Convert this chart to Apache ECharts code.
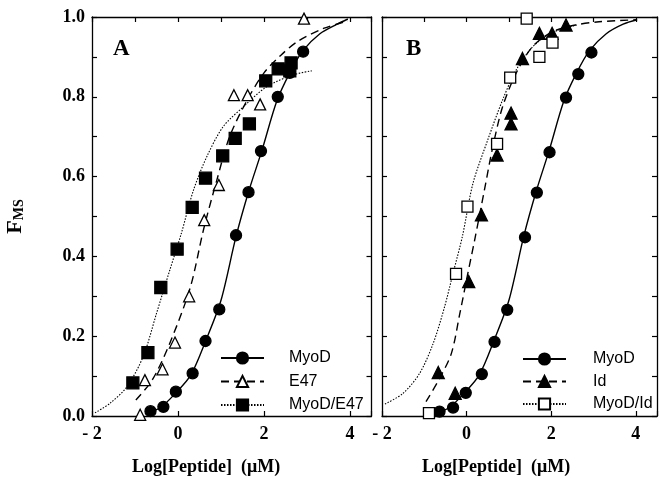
<!DOCTYPE html>
<html>
<head>
<meta charset="utf-8">
<script src="https://cdn.jsdelivr.net/npm/echarts@6/dist/echarts.min.js"></script>
<style>html,body{margin:0;padding:0;background:#fff}#c{width:660px;height:480px}</style>
</head>
<body>
<div id="c"></div>
<script>
// ---------- Panel A data ----------
const aMyoDX = [-0.64, -0.34, -0.05, 0.34, 0.64, 0.96, 1.35, 1.64, 1.93, 2.32, 2.60, 2.91];
const aMyoDY = [0.012, 0.023, 0.061, 0.107, 0.188, 0.267, 0.453, 0.561, 0.664, 0.80, 0.86, 0.913];
const aE47X = [-0.88, -0.77, -0.36, -0.07, 0.26, 0.61, 0.95, 1.30, 1.62, 1.91, 2.93];
const aE47Y = [0.003, 0.09, 0.117, 0.184, 0.30, 0.491, 0.579, 0.804, 0.804, 0.781, 0.996];
const aMixX = [-1.05, -0.70, -0.40, -0.02, 0.33, 0.64, 1.04, 1.33, 1.66, 2.04, 2.33, 2.60, 2.63];
const aMixY = [0.083, 0.159, 0.322, 0.418, 0.523, 0.596, 0.652, 0.696, 0.732, 0.840, 0.870, 0.865, 0.885];
// fitted curves
const aMyoDFitX = [-0.75, -0.4, -0.05, 0.3, 0.65, 1.0, 1.35, 1.65, 1.95, 2.3, 2.6, 2.9, 3.3, 3.7, 3.95];
const aMyoDFitY = [0.005, 0.022, 0.058, 0.103, 0.19, 0.29, 0.45, 0.565, 0.665, 0.79, 0.86, 0.915, 0.958, 0.982, 0.995];
const aE47FitX = [-0.98, -0.6, -0.2, 0.28, 0.6, 0.9, 1.2, 1.6, 2.0, 2.4, 2.8, 3.4, 3.95];
const aE47FitY = [0.04, 0.09, 0.18, 0.32, 0.47, 0.59, 0.7, 0.79, 0.86, 0.905, 0.94, 0.972, 0.99];
const aMixFitX = [-1.93, -1.58, -1.19, -0.81, -0.5, -0.19, 0.07, 0.36, 0.67, 1.05, 1.52, 2.06, 2.68, 3.11];
const aMixFitY = [0.008, 0.032, 0.073, 0.149, 0.257, 0.366, 0.455, 0.566, 0.65, 0.725, 0.775, 0.825, 0.855, 0.865];

// ---------- Panel B data ----------
const bMyoDX = [-0.64, -0.32, -0.02, 0.36, 0.66, 0.96, 1.38, 1.66, 1.96, 2.35, 2.64, 2.95];
const bMyoDY = [0.011, 0.021, 0.058, 0.105, 0.186, 0.266, 0.448, 0.56, 0.661, 0.798, 0.857, 0.911];
const bIdX = [-0.67, -0.27, 0.05, 0.35, 0.72, 1.05, 1.05, 1.32, 1.72, 2.02, 2.35];
const bIdY = [0.109, 0.057, 0.337, 0.504, 0.654, 0.732, 0.759, 0.896, 0.959, 0.959, 0.98];
const bMixX = [-0.89, -0.25, 0.02, 0.72, 1.03, 1.42, 1.72, 2.03];
const bMixY = [0.007, 0.356, 0.525, 0.682, 0.848, 0.996, 0.90, 0.936];
const bMyoDFitX = [-0.75, -0.4, -0.05, 0.3, 0.65, 1.0, 1.35, 1.65, 1.95, 2.3, 2.6, 2.9, 3.3, 3.7, 4.03];
const bMyoDFitY = [0.005, 0.022, 0.058, 0.103, 0.19, 0.29, 0.45, 0.565, 0.665, 0.79, 0.86, 0.915, 0.958, 0.982, 0.993];
const bIdFitX = [-0.96, -0.64, -0.36, -0.16, 0.03, 0.19, 0.42, 0.62, 0.85, 1.17, 1.56, 2.03, 2.58, 3.13, 4.03];
const bIdFitY = [0.036, 0.094, 0.157, 0.257, 0.358, 0.441, 0.566, 0.675, 0.775, 0.859, 0.926, 0.963, 0.98, 0.988, 0.993];
const bMixFitX = [-1.93, -1.5, -1.11, -0.79, -0.52, -0.32, -0.1, 0.15, 0.5, 0.85, 1.17, 1.56, 2.0, 2.6];
const bMixFitY = [0.03, 0.057, 0.107, 0.182, 0.274, 0.358, 0.45, 0.583, 0.692, 0.792, 0.867, 0.925, 0.96, 0.98];

const legendA = ['MyoD', 'E47', 'MyoD/E47'];
const legendB = ['MyoD', 'Id', 'MyoD/Id'];
const xTickLabels = {'-2': '- 2', '0': '0', '2': '2', '4': '4'};
const panelLetters = ['A', 'B'];
const xTitle = 'Log[Peptide]  (\u03bcM)';

const zip = (xs, ys) => xs.map((x, i) => [x, ys[i]]);
const SERIF = '"Liberation Serif", "Times New Roman", serif';
const SANS = '"Liberation Sans", Arial, sans-serif';

function xAxes(g) {
  const base = {
    gridIndex: g, type: 'value', min: -2, max: 4.5,
    axisLine: {show: true, onZero: false, lineStyle: {color: '#000', width: 1.3}},
    axisTick: {show: true, inside: true, length: 5, lineStyle: {color: '#000', width: 1.2}},
    splitLine: {show: false}
  };
  return [
    Object.assign({}, base, {position: 'bottom', interval: 2,
      axisLabel: {show: true, margin: 9, color: '#000', fontFamily: SERIF, fontWeight: 'bold', fontSize: 18,
        formatter: v => (xTickLabels[String(Math.round(v))] !== undefined && Math.abs(v - Math.round(v)) < 1e-6) ? xTickLabels[String(Math.round(v))] : ''}}),
    Object.assign({}, base, {position: 'top', interval: 1, axisLabel: {show: false}})
  ];
}
function yAxes(g, labels) {
  const base = {
    gridIndex: g, type: 'value', min: 0, max: 1, interval: 0.1,
    axisLine: {show: true, onZero: false, lineStyle: {color: '#000', width: 1.3}},
    axisTick: {show: true, inside: true, length: 5, lineStyle: {color: '#000', width: 1.2}},
    splitLine: {show: false}
  };
  const left = Object.assign({}, base, {position: 'left',
    axisLabel: {show: labels, margin: 7, color: '#000', fontFamily: SERIF, fontWeight: 'bold', fontSize: 18,
      formatter: v => (Math.round(v * 10) % 2 === 0) ? v.toFixed(1) : ''}});
  if (labels) {
    left.name = '{f|F}{s|MS}';
    left.nameLocation = 'middle';
    left.nameGap = 66;
    left.nameRotate = 90;
    left.nameTextStyle = {rich: {
      f: {fontFamily: SERIF, fontWeight: 'bold', fontSize: 22, color: '#000', verticalAlign: 'bottom'},
      s: {fontFamily: SERIF, fontWeight: 'bold', fontSize: 14, color: '#000', verticalAlign: 'bottom'}
    }};
  }
  return [left, Object.assign({}, base, {position: 'right', axisLabel: {show: false}})];
}

function curve(name, xi, yi, xs, ys, type, sym, fill) {
  return {
    name, type: 'line', xAxisIndex: xi, yAxisIndex: yi, data: zip(xs, ys),
    smooth: 0.3, showSymbol: false, symbol: sym, symbolSize: 11,
    lineStyle: {color: '#000', width: type === 'dotted' ? 1.1 : 1.4,
      type: type === 'dashed' ? [8, 5] : (type === 'dotted' ? [1.5, 1.5] : 'solid')},
    itemStyle: {color: fill, borderColor: '#000', borderWidth: 1.3},
    silent: true, z: 2, animation: false
  };
}
function points(name, xi, yi, xs, ys, sym, size, fill) {
  return {
    name, type: 'scatter', xAxisIndex: xi, yAxisIndex: yi, data: zip(xs, ys),
    symbol: sym, symbolSize: size, clip: false,
    itemStyle: {color: fill, borderColor: '#000', borderWidth: 1.3, opacity: 1},
    z: 3, animation: false
  };
}

const legendBase = {
  orient: 'vertical', itemWidth: 43, itemHeight: 14, selectedMode: false,
  textStyle: {fontFamily: SANS, fontSize: 16, color: '#000'}
};

const option = {
  backgroundColor: '#fff',
  animation: false,
  grid: [
    {left: 92, top: 17, width: 279.5, height: 399},
    {left: 382, top: 17, width: 276, height: 399}
  ],
  xAxis: [...xAxes(0), ...xAxes(1)],
  yAxis: [...yAxes(0, true), ...yAxes(1, false)],
  legend: [
    Object.assign({}, legendBase, {data: legendA, left: 215, top: 345, itemGap: 7.5,
      textStyle: Object.assign({}, legendBase.textStyle, {padding: [0, 0, 0, 20]})}),
    Object.assign({}, legendBase, {data: legendB, left: 517, top: 346, itemGap: 6.5,
      textStyle: Object.assign({}, legendBase.textStyle, {padding: [0, 0, 0, 22]})})
  ],
  series: [
    curve('MyoD', 0, 0, aMyoDFitX, aMyoDFitY, 'solid', 'circle', '#000'),
    curve('E47', 0, 0, aE47FitX, aE47FitY, 'dashed', 'triangle', '#fff'),
    curve('MyoD/E47', 0, 0, aMixFitX, aMixFitY, 'dotted', 'rect', '#000'),
    points('MyoD', 0, 0, aMyoDX, aMyoDY, 'circle', 11, '#000'),
    points('E47', 0, 0, aE47X, aE47Y, 'triangle', 11, '#fff'),
    points('MyoD/E47', 0, 0, aMixX, aMixY, 'rect', 12, '#000'),
    curve('MyoD', 2, 2, bMyoDFitX, bMyoDFitY, 'solid', 'circle', '#000'),
    curve('Id', 2, 2, bIdFitX, bIdFitY, 'dashed', 'triangle', '#000'),
    curve('MyoD/Id', 2, 2, bMixFitX, bMixFitY, 'dotted', 'rect', '#fff'),
    points('MyoD', 2, 2, bMyoDX, bMyoDY, 'circle', 11, '#000'),
    points('Id', 2, 2, bIdX, bIdY, 'triangle', 12, '#000'),
    points('MyoD/Id', 2, 2, bMixX, bMixY, 'rect', 11, '#fff')
  ],
  graphic: [
    {type: 'text', left: 113, top: 38, style: {text: panelLetters[0], font: 'bold 23px ' + SERIF, fill: '#000'}},
    {type: 'text', left: 406, top: 38, style: {text: panelLetters[1], font: 'bold 23px ' + SERIF, fill: '#000'}},
    {type: 'text', left: 132, top: 458, style: {text: xTitle, font: 'bold 18px ' + SERIF, fill: '#000'}},
    {type: 'text', left: 422, top: 458, style: {text: xTitle, font: 'bold 18px ' + SERIF, fill: '#000'}}
  ]
};

const chart = echarts.init(document.getElementById('c'), null, {renderer: 'canvas'});
chart.setOption(option);
</script>
</body>
</html>
